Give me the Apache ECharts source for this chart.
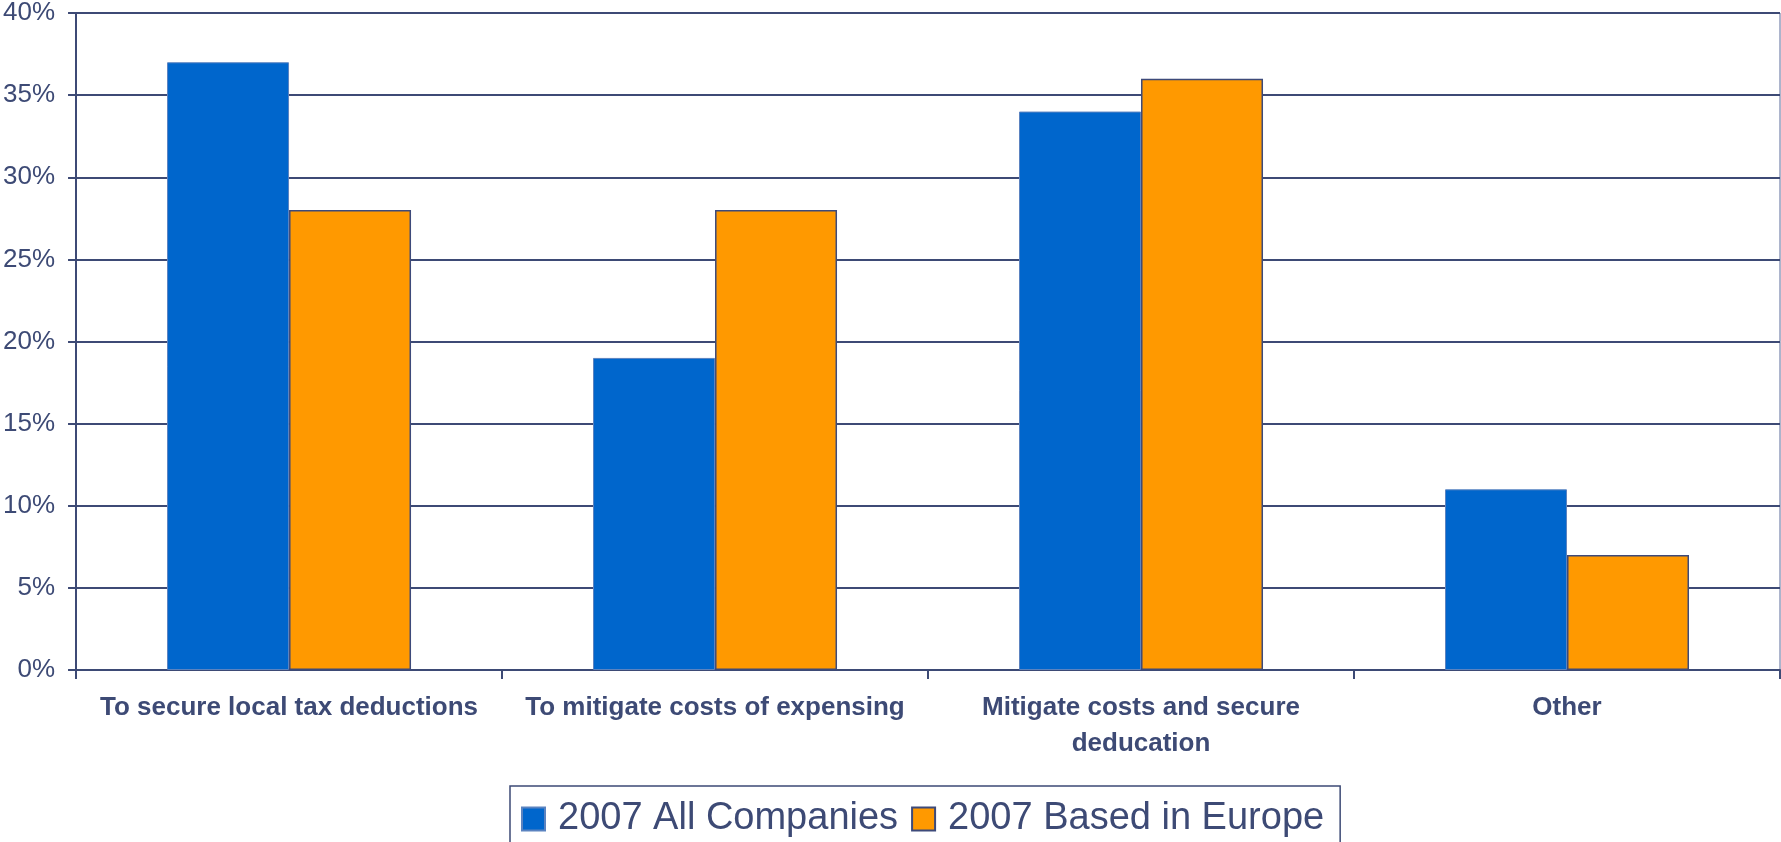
<!DOCTYPE html>
<html>
<head>
<meta charset="utf-8">
<script src="https://cdn.jsdelivr.net/npm/echarts@6/dist/echarts.min.js"></script>
<style>
html,body{margin:0;padding:0;background:#fff;}
#chart{width:1781px;height:842px;}
</style>
</head>
<body>
<div id="chart"></div>
<script>
const categories = [
  'To secure local tax deductions',
  'To mitigate costs of expensing',
  'Mitigate costs and secure\ndeducation',
  'Other'
];
const seriesNames = ['2007 All Companies', '2007 Based in Europe'];
const allCompanies = [37, 19, 34, 11];
const basedInEurope = [28, 28, 36, 7];
const yTicks = [0, 5, 10, 15, 20, 25, 30, 35, 40];

const navy = '#3d4a75';
const font = "'Liberation Sans', Arial, sans-serif";

const chart = echarts.init(document.getElementById('chart'), null, {renderer: 'canvas'});
chart.setOption({
  backgroundColor: '#ffffff',
  animation: false,
  grid: {
    left: 75, right: 1, top: 10, bottom: 172,
    show: true, borderColor: '#5a6b9a', borderWidth: 1, backgroundColor: 'transparent'
  },
  legend: {
    data: seriesNames,
    icon: 'rect',
    left: 510, top: 786,
    orient: 'horizontal',
    padding: [14, 16, 30, 11],
    itemWidth: 23, itemHeight: 23, itemGap: 13,
    borderColor: navy, borderWidth: 1.5,
    textStyle: {fontFamily: font, fontSize: 38, color: navy, padding: [0, 0, 0, 8]}
  },
  xAxis: {
    type: 'category',
    data: categories,
    axisLine: {lineStyle: {color: navy, width: 2}},
    axisTick: {show: true, length: 9, lineStyle: {color: navy, width: 2}},
    axisLabel: {
      interval: 0, margin: 20, fontFamily: font, fontSize: 26, fontWeight: 'bold',
      color: navy, lineHeight: 36
    }
  },
  yAxis: {
    type: 'value',
    min: yTicks[0], max: yTicks[yTicks.length - 1], interval: yTicks[1] - yTicks[0],
    axisLine: {show: true, lineStyle: {color: navy, width: 2}},
    axisTick: {show: true, length: 8, lineStyle: {color: navy, width: 2}},
    splitLine: {show: true, lineStyle: {color: navy, width: 2}},
    axisLabel: {formatter: '{value}%', margin: 21, fontFamily: font, fontSize: 26, color: navy}
  },
  series: [
    {
      name: seriesNames[0], type: 'bar', data: allCompanies,
      barWidth: 122, barGap: '0%',
      itemStyle: {color: '#0066CC', borderColor: '#5b83c0', borderWidth: 1}
    },
    {
      name: seriesNames[1], type: 'bar', data: basedInEurope,
      barWidth: 122,
      itemStyle: {color: '#FF9900', borderColor: '#3d4a7a', borderWidth: 1.5}
    }
  ]
});
</script>
</body>
</html>
